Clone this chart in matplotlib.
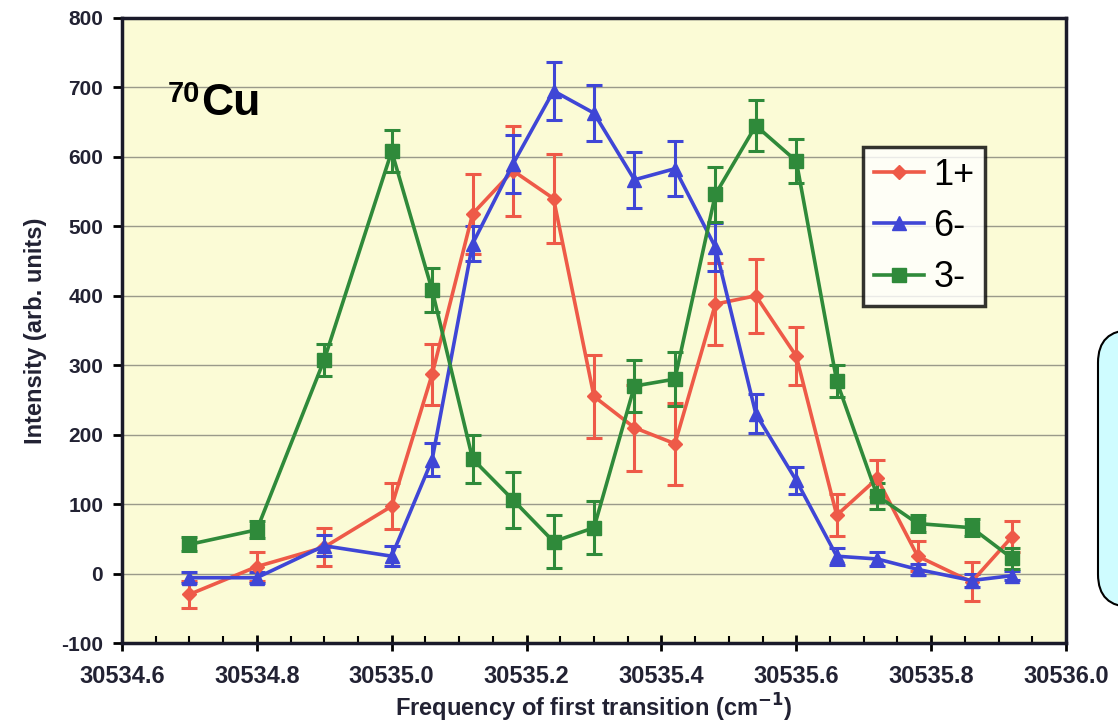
import matplotlib
matplotlib.use("Agg")
import matplotlib.pyplot as plt
from matplotlib.patches import FancyBboxPatch
from matplotlib.lines import Line2D
from matplotlib.ticker import MultipleLocator, FormatStrFormatter

plt.rcParams['font.family'] = ['Liberation Sans', 'DejaVu Sans']
plt.rcParams['axes.unicode_minus'] = False

freq = [30534.70, 30534.80, 30534.90, 30535.00, 30535.06, 30535.12, 30535.18,
        30535.24, 30535.30, 30535.36, 30535.42, 30535.48, 30535.54, 30535.60,
        30535.66, 30535.72, 30535.78, 30535.86, 30535.92]

i_1p = [-30, 10, 38, 97, 287, 518, 580, 540, 255, 210, 187, 388, 400, 313,
        84, 137, 25, -12, 53]
e_1p = [20, 21, 27, 33, 44, 58, 65, 64, 60, 62, 59, 59, 53, 42, 30, 27, 22, 28, 22]

i_6m = [-6, -6, 40, 25, 164, 475, 590, 695, 663, 567, 583, 470, 230, 134,
        25, 21, 6, -10, -3]
e_6m = [8, 8, 15, 14, 24, 25, 42, 42, 40, 40, 40, 35, 28, 20, 12, 10, 8, 10, 6]

i_3m = [42, 63, 308, 608, 408, 165, 106, 46, 66, 270, 280, 546, 645, 594,
        277, 112, 72, 66, 22]
e_3m = [10, 12, 23, 30, 32, 35, 40, 38, 38, 38, 39, 40, 37, 32, 23, 19, 12, 12, 15]

labels = ['1+', '6-', '3-']
colors = ['#EE5A48', '#3F46D6', '#2F8A3A']
markers = ['D', '^', 's']
msizes = [7, 10, 10]

fig = plt.figure(figsize=(11.18, 7.25), dpi=100)
ax = fig.add_axes([0.1091, 0.1131, 0.8444, 0.8621])
ax.set_facecolor('#FBFBD6')

series = [(i_1p, e_1p), (i_6m, e_6m), (i_3m, e_3m)]
handles = []
for (vals, errs), lab, c, m, ms in zip(series, labels, colors, markers, msizes):
    ax.errorbar(freq, vals, yerr=errs, color=c, marker=m, markersize=ms,
                linewidth=2.6, elinewidth=2.2, capsize=6, capthick=2.2)
    handles.append(Line2D([], [], color=c, marker=m, markersize=ms,
                          linewidth=2.6, label=lab))

ax.set_xlim(30534.6, 30536.0)
ax.set_ylim(-100, 800)
ax.yaxis.set_major_locator(MultipleLocator(100))
ax.xaxis.set_major_locator(MultipleLocator(0.2))
ax.xaxis.set_minor_locator(MultipleLocator(0.05))
ax.xaxis.set_major_formatter(FormatStrFormatter('%.1f'))
ax.grid(axis='y', color='#9A9A8A', linewidth=1.0)
ax.set_axisbelow(True)

for s in ax.spines.values():
    s.set_linewidth(2.5)
    s.set_color('#1a1a2a')

ax.tick_params(axis='y', which='major', direction='out', length=6.5, width=2,
               labelsize=15, pad=7)
ax.tick_params(axis='x', which='major', direction='inout', length=12, width=2,
               labelsize=17, pad=10)
ax.tick_params(axis='x', which='minor', direction='in', length=5, width=1.5)
for t in ax.get_xticklabels() + ax.get_yticklabels():
    t.set_fontweight('bold')
    t.set_color('#222233')

fig.text(0.5 * (122 + 1066) / 1118, 1 - 717 / 725,
         'Frequency of first transition (cm$^{\\mathbf{-1}}$)',
         fontsize=17, fontweight='bold', color='#222233',
         ha='center', va='baseline')
ax.set_ylabel('Intensity (arb. units)', fontsize=17, fontweight='bold',
              labelpad=10, color='#222233')

# isotope label: superscript mass number followed by element symbol
fig.text(168 / 1118, 1 - 102 / 725, '70', fontsize=21, fontweight='bold',
         ha='left', va='baseline')
fig.text(201 / 1118, 1 - 115 / 725, 'Cu', fontsize=32, fontweight='bold',
         ha='left', va='baseline')

leg = ax.legend(handles=handles, loc='upper left',
                bbox_to_anchor=(0.785, 0.7936), fontsize=26,
                frameon=True, fancybox=False, handlelength=1.4,
                handletextpad=0.25, borderpad=0.3, labelspacing=0.45,
                borderaxespad=0)
leg.get_frame().set_edgecolor('black')
leg.get_frame().set_linewidth(2.5)
leg.get_frame().set_facecolor('white')

box = FancyBboxPatch((1098 / 1118, 1 - 607 / 725), 60 / 1118, 277 / 725,
                     boxstyle='round,pad=0,rounding_size=0.03',
                     transform=fig.transFigure, facecolor='#CFFCFF',
                     edgecolor='black', linewidth=1.5, mutation_aspect=1.5,
                     clip_on=False)
fig.patches.append(box)

fig.savefig('out.png', dpi=100)
